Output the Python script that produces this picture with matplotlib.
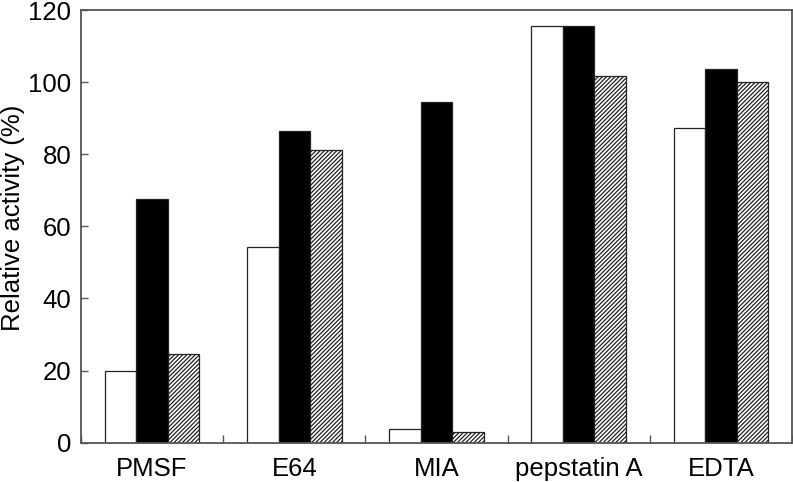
import matplotlib
matplotlib.use("Agg")
import matplotlib.pyplot as plt
import numpy as np

plt.rcParams['font.family'] = ['Liberation Sans', 'DejaVu Sans']
plt.rcParams['hatch.linewidth'] = 0.9

categories = ["PMSF", "E64", "MIA", "pepstatin A", "EDTA"]
series_white = [20.0, 54.3, 3.7, 115.7, 87.4]
series_black = [67.5, 86.5, 94.4, 115.7, 103.7]
series_hatched = [24.5, 81.1, 2.9, 101.7, 99.9]
yticks = [0, 20, 40, 60, 80, 100, 120]

fig = plt.figure(figsize=(7.93, 4.82), dpi=100)
ax = fig.add_axes([81/793, (482-442.7)/482, (792-81)/793, (442.7-10)/482])

x = np.arange(len(categories))
w = 0.222
ax.bar(x - w, series_white, w, facecolor='white', edgecolor='#222222', linewidth=0.9)
ax.bar(x, series_black, w, facecolor='black', edgecolor='#222222', linewidth=0.9)
ax.bar(x + w, series_hatched, w, facecolor='white', edgecolor='#222222', linewidth=0.9, hatch='////////')

ax.set_xlim(-0.5, len(categories) - 0.5)
ax.set_ylim(0, 120)
ax.set_yticks(yticks)
ax.set_xticks(x)
ax.set_xticklabels(categories)
ax.set_xticks(np.arange(-0.5, len(categories), 1.0), minor=True)

spine_color = '#555555'
for s in ax.spines.values():
    s.set_color(spine_color)
    s.set_linewidth(1.3)

fs = 18.5
ax.tick_params(axis='y', direction='in', length=5, width=1, color=spine_color, labelsize=fs, pad=7)
ax.tick_params(axis='x', which='major', length=0, labelsize=fs, pad=10)
ax.tick_params(axis='x', which='minor', direction='in', length=6, width=1, color=spine_color)

ax.set_ylabel("Relative activity (%)", fontsize=fs)
ax.yaxis.label.set_verticalalignment('center')
ax.yaxis.set_label_coords((13 - 81) / 711, (442.7 - 218) / 432.7)

fig.savefig("out.png", dpi=100)
